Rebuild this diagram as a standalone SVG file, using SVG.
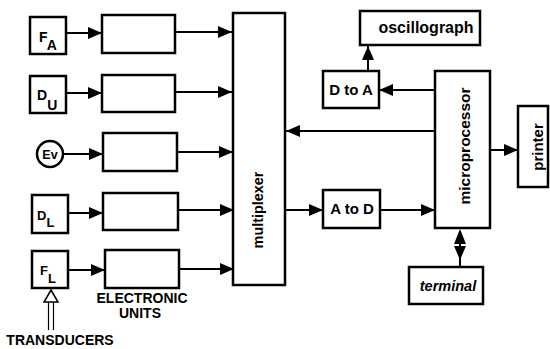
<svg xmlns="http://www.w3.org/2000/svg" width="550" height="349" viewBox="0 0 550 349">
<defs>
<style>
.box{fill:#fff;stroke:#000;stroke-width:2.5}
.ln{fill:none;stroke:#000;stroke-width:2;marker-end:url(#ah)}
.t{font-family:"Liberation Sans",Arial,sans-serif;font-weight:bold;fill:#000}
</style>
<marker id="ah" markerUnits="userSpaceOnUse" markerWidth="14" markerHeight="12" refX="14" refY="6" orient="auto">
<path d="M0,0 L14,6 L0,12 z" fill="#000"/>
</marker>
</defs>
<rect width="550" height="349" fill="#fff"/>

<g id="connectors">
<line class="ln" x1="66" y1="33" x2="102" y2="33"/>
<line class="ln" x1="66" y1="93" x2="102" y2="93"/>
<line class="ln" x1="63" y1="154" x2="103" y2="154"/>
<line class="ln" x1="68" y1="213" x2="103" y2="213"/>
<line class="ln" x1="68" y1="270" x2="105" y2="270"/>
<line class="ln" x1="175" y1="32" x2="232" y2="32"/>
<line class="ln" x1="175" y1="92" x2="232" y2="92"/>
<line class="ln" x1="177" y1="152" x2="233" y2="152"/>
<line class="ln" x1="178" y1="210" x2="234" y2="210"/>
<line class="ln" x1="179" y1="269" x2="234" y2="269"/>
<line class="ln" x1="435" y1="131" x2="286" y2="131"/>
<line class="ln" x1="435" y1="90" x2="379" y2="90"/>
<line class="ln" x1="368" y1="71" x2="368" y2="46"/>
<line class="ln" x1="286" y1="210" x2="323" y2="210"/>
<line class="ln" x1="380" y1="210" x2="435" y2="210"/>
<line class="ln" x1="490" y1="150" x2="518" y2="150"/>
<line x1="460" y1="240" x2="460" y2="267" stroke="#000" stroke-width="2"/>
<path d="M460,229 L466,244 L454,244 z" fill="#000"/>
<path d="M460,260 L466,246 L454,246 z" fill="#000"/>
<g id="transducer-arrow">
<line x1="48.5" y1="302" x2="48.5" y2="330" stroke="#000" stroke-width="1.2"/>
<line x1="53.5" y1="302" x2="53.5" y2="330" stroke="#000" stroke-width="1.2"/>
<path d="M51,290 L58,302 L44,302 z" fill="#fff" stroke="#000" stroke-width="1.5"/>
</g>
</g>

<g id="FA"><rect class="box" x="30" y="17" width="36" height="37"/>
<text class="t" x="39" y="42" font-size="14">F<tspan dy="8">A</tspan></text></g>
<g id="DU"><rect class="box" x="30" y="76" width="36" height="37"/>
<text class="t" x="37" y="100" font-size="14">D<tspan dy="10">U</tspan></text></g>
<g id="Ev"><circle class="box" cx="50" cy="154" r="13" stroke-width="2"/>
<text class="t" x="50" y="158.5" font-size="12.5" text-anchor="middle">Ev</text></g>
<g id="DL"><rect class="box" x="32" y="195" width="36" height="38"/>
<text class="t" x="37" y="220" font-size="13">D<tspan dy="7">L</tspan></text></g>
<g id="FL"><rect class="box" x="32" y="251" width="36" height="37"/>
<text class="t" x="40" y="275" font-size="13">F<tspan dy="8">L</tspan></text></g>

<g id="eu1"><rect class="box" x="102" y="15" width="73" height="38"/></g>
<g id="eu2"><rect class="box" x="102" y="75" width="73" height="37"/></g>
<g id="eu3"><rect class="box" x="103" y="133" width="74" height="38"/></g>
<g id="eu4"><rect class="box" x="103" y="193" width="75" height="37"/></g>
<g id="eu5"><rect class="box" x="105" y="250" width="74" height="38"/></g>

<g id="labels">
<text class="t" x="142" y="303" font-size="14" text-anchor="middle">ELECTRONIC</text>
<text class="t" x="140" y="318" font-size="14" text-anchor="middle">UNITS</text>
<text class="t" x="60" y="345" font-size="14" text-anchor="middle">TRANSDUCERS</text>
</g>

<g id="mux"><rect class="box" x="233" y="13" width="52" height="272"/>
<text class="t" transform="translate(263,210) rotate(-90)" font-size="14.4" text-anchor="middle">multiplexer</text></g>

<g id="osc"><rect class="box" x="360" y="11" width="120" height="34"/>
<text class="t" x="426" y="33" font-size="16" text-anchor="middle">oscillograph</text></g>

<g id="dtoa"><rect class="box" x="323" y="71" width="56" height="37"/>
<text class="t" x="351" y="95" font-size="15" text-anchor="middle">D to A</text></g>

<g id="atod"><rect class="box" x="323" y="190" width="57" height="38"/>
<text class="t" x="352" y="214" font-size="15" text-anchor="middle">A to D</text></g>

<g id="micro"><rect class="box" x="435" y="71" width="55" height="157"/>
<text class="t" transform="translate(470,146) rotate(-90)" font-size="15.5" text-anchor="middle">microprocessor</text></g>

<g id="printer"><rect class="box" x="518" y="106" width="30" height="81"/>
<text class="t" transform="translate(543,147) rotate(-90)" font-size="15" text-anchor="middle">printer</text></g>

<g id="terminal"><rect class="box" x="409" y="267" width="74" height="37"/>
<text class="t" x="448" y="291" font-size="14.5" font-style="italic" text-anchor="middle">terminal</text></g>
</svg>
